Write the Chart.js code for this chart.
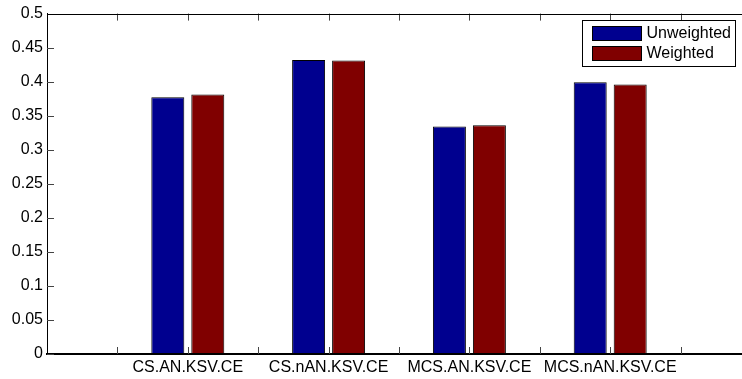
<!DOCTYPE html>
<html>
<head>
<meta charset="utf-8">
<script src="https://cdn.jsdelivr.net/npm/chart.js@4.4.1/dist/chart.umd.min.js"></script>
<style>
  body { margin: 0; overflow: hidden; background: #fff; }
  #wrap { position: relative; width: 760px; height: 379px; }
</style>
</head>
<body>
<div id="wrap"><canvas id="barChart"></canvas></div>
<script>
// datos
const categories = ['CS.AN.KSV.CE', 'CS.nAN.KSV.CE', 'MCS.AN.KSV.CE', 'MCS.nAN.KSV.CE'];
const unweighted = [0.377, 0.432, 0.334, 0.399];
const weighted = [0.381, 0.431, 0.336, 0.396];
const yTicks = [0, 0.05, 0.1, 0.15, 0.2, 0.25, 0.3, 0.35, 0.4, 0.45, 0.5];

// huecos a los lados, como xlim [0 5] en matlab
const labels = [''].concat(categories, ['']);
const pad = arr => [null].concat(arr, [null]);

const FONT = "'Liberation Sans', Arial, sans-serif";

// marcas hacia dentro + linea superior + leyenda con caja
const matlabAxes = {
    id: 'matlabAxes',
    afterDatasetsDraw(chart) {
        const ctx = chart.ctx;
        const a = chart.chartArea;
        const xs = chart.scales.x;
        const ys = chart.scales.y;
        const tl = 7;
        ctx.save();
        ctx.strokeStyle = '#444';
        ctx.lineWidth = 1;
        ctx.beginPath();
        for (let i = 0; i < labels.length - 1; i++) {
            const p0 = xs.getPixelForValue(i);
            const p1 = xs.getPixelForValue(i + 1);
            [p0, (p0 + p1) / 2].forEach(function(px) {
                if (i === 0 && px === p0) return;
                const x = Math.round(px) + 0.5;
                ctx.moveTo(x, a.bottom); ctx.lineTo(x, a.bottom - tl);
                ctx.moveTo(x, a.top); ctx.lineTo(x, a.top + tl);
            });
        }
        yTicks.forEach(function(v) {
            const y = Math.round(ys.getPixelForValue(v)) + 0.5;
            ctx.moveTo(a.left, y); ctx.lineTo(a.left + tl, y);
        });
        ctx.stroke();

        ctx.strokeStyle = '#000';
        ctx.beginPath();
        ctx.moveTo(a.left, Math.round(a.top) + 0.5);
        ctx.lineTo(a.right, Math.round(a.top) + 0.5);
        ctx.stroke();

        // leyenda
        const w = 153, h = 46;
        const lx = Math.round(a.right - 16 - w) + 0.5;
        const ly = Math.round(a.top + 6) + 0.5;
        ctx.fillStyle = '#fff';
        ctx.fillRect(lx, ly, w, h);
        ctx.strokeRect(lx, ly, w, h);
        ctx.font = '16px ' + FONT;
        ctx.textBaseline = 'middle';
        chart.data.datasets.forEach(function(ds, i) {
            const sy = ly + 6 + i * 20;
            ctx.fillStyle = ds.backgroundColor;
            ctx.fillRect(lx + 10, sy, 49, 14);
            ctx.strokeRect(lx + 10, sy, 49, 14);
            ctx.fillStyle = '#000';
            ctx.fillText(ds.label, lx + 64, sy + 7.5);
        });
        ctx.restore();
    }
};

const ctxBar = document.getElementById('barChart').getContext('2d');
const barChart = new Chart(ctxBar, {
    type: 'bar',
    data: {
        labels: labels,
        datasets: [{
            label: 'Unweighted',
            data: pad(unweighted),
            backgroundColor: '#00008f',
            borderColor: '#000000',
            borderWidth: 1,
            borderSkipped: false
        }, {
            label: 'Weighted',
            data: pad(weighted),
            backgroundColor: '#800000',
            borderColor: '#000000',
            borderWidth: 1,
            borderSkipped: false
        }]
    },
    options: {
        responsive: true,
        maintainAspectRatio: false,
        animation: false,
        categoryPercentage: 0.568,
        barPercentage: 0.825,
        layout: { padding: { left: 0, top: 13, right: 9, bottom: 0 } },
        plugins: {
            legend: { display: false },
            tooltip: { enabled: false }
        },
        scales: {
            x: {
                offset: false,
                grid: { display: false, drawTicks: false },
                border: { display: true, color: '#000', width: 2 },
                ticks: {
                    autoSkip: false,
                    maxRotation: 0,
                    padding: 4,
                    color: '#000',
                    font: { family: FONT, size: 16 }
                },
                afterFit: function(s) { s.height = 25; }
            },
            y: {
                min: 0,
                max: 0.5,
                grid: { display: false, drawTicks: false },
                border: { display: true, color: '#000', width: 1 },
                ticks: {
                    stepSize: 0.05,
                    padding: 4,
                    color: '#000',
                    font: { family: FONT, size: 16 },
                    callback: function(v) { return String(Number(v.toFixed(2))); }
                },
                afterFit: function(s) { s.width = 47; }
            }
        }
    },
    plugins: [matlabAxes]
});
</script>
</body>
</html>
